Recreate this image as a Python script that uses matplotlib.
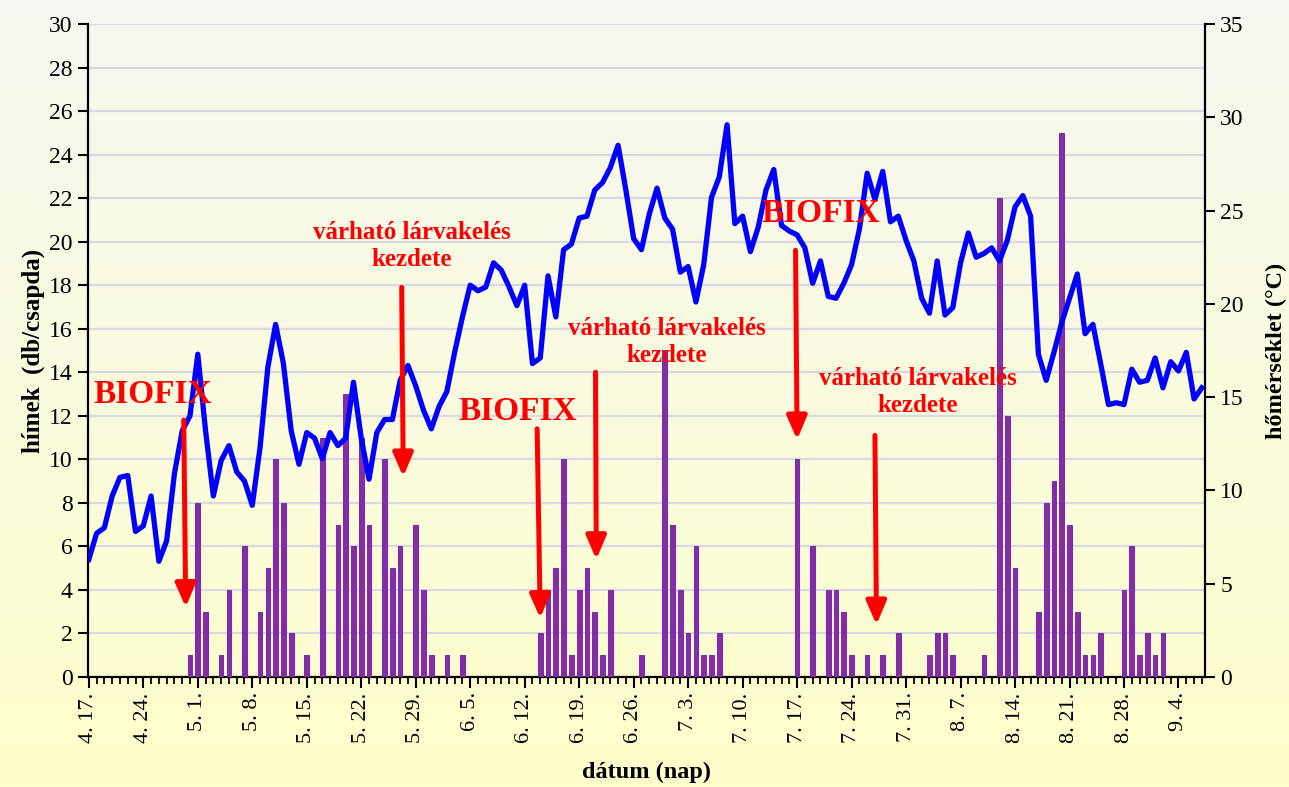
import numpy as np
import pandas as pd
import matplotlib
matplotlib.use('Agg')
import matplotlib.pyplot as plt
from matplotlib.ticker import MultipleLocator

plt.rcParams['font.family'] = ['Liberation Serif', 'DejaVu Serif']

# napi adatok 4.17-tol 9.7-ig
dates = pd.date_range('2008-04-17', periods=144, freq='D')

# napi kozephomerseklet (°C)
temp = [6.3, 7.7, 8.0, 9.7, 10.7, 10.8, 7.8, 8.1, 9.7, 6.2,
        7.3, 10.9, 13.2, 14.0, 17.3, 13.2, 9.7, 11.6, 12.4, 11.0,
        10.5, 9.2, 12.3, 16.6, 18.9, 16.8, 13.2, 11.4, 13.1, 12.8,
        11.7, 13.1, 12.4, 12.8, 15.8, 12.8, 10.6, 13.1, 13.8, 13.8,
        15.9, 16.7, 15.6, 14.3, 13.3, 14.5, 15.3, 17.4, 19.3, 21.0,
        20.7, 20.9, 22.2, 21.8, 20.9, 19.9, 21.0, 16.8, 17.1, 21.5,
        19.3, 22.9, 23.2, 24.6, 24.7, 26.1, 26.5, 27.3, 28.5, 26.1,
        23.5, 22.9, 24.8, 26.2, 24.6, 24.0, 21.7, 22.0, 20.1, 22.1,
        25.7, 26.8, 29.6, 24.3, 24.7, 22.8, 24.1, 26.1, 27.2, 24.2,
        23.9, 23.7, 23.0, 21.1, 22.3, 20.4, 20.3, 21.1, 22.1, 24.0,
        27.0, 25.6, 27.1, 24.4, 24.7, 23.4, 22.3, 20.3, 19.5, 22.3,
        19.4, 19.8, 22.2, 23.8, 22.5, 22.7, 23.0, 22.3, 23.4, 25.2,
        25.8, 24.7, 17.3, 15.9, 17.4, 19.0, 20.3, 21.6, 18.4, 18.9,
        16.8, 14.6, 14.7, 14.6, 16.5, 15.8, 15.9, 17.1, 15.5, 16.9,
        16.4, 17.4, 14.9, 15.5]

# fogasok: nap sorszama (0 = 4.17.) es himek szama csapdankent
trap_day = [13, 14, 15, 17, 18, 20, 22, 23, 24, 25, 26, 28, 30, 32, 33, 34, 35, 36,
            38, 39, 40, 42, 43, 44, 46, 48, 58, 59, 60, 61, 62, 63, 64, 65, 66, 67,
            71, 74, 75, 76, 77, 78, 79, 80, 81, 91, 93, 95, 96, 97, 98, 100, 102, 104,
            108, 109, 110, 111, 115, 117, 118, 119, 122, 123, 124, 125, 126, 127, 128,
            129, 130, 133, 134, 135, 136, 137, 138]
males = [1, 8, 3, 1, 4, 6, 3, 5, 10, 8, 2, 1, 11, 7, 13, 6, 11, 7,
         10, 5, 6, 7, 4, 1, 1, 1, 2, 4, 5, 10, 1, 4, 5, 3, 1, 4,
         1, 15, 7, 4, 2, 6, 1, 1, 2, 10, 6, 4, 4, 3, 1, 1, 1, 2,
         1, 2, 2, 1, 1, 22, 12, 5, 3, 8, 9, 25, 7, 3, 1,
         1, 2, 4, 6, 1, 2, 1, 2]

tick_labels = [f"{d.month}. {d.day}." for d in dates[::7]]

fig = plt.figure(figsize=(12.89, 7.87), dpi=100)

# hatter szinatmenet
bg = fig.add_axes([0, 0, 1, 1], zorder=-10)
top_c = np.array([246, 247, 241]) / 255
bot_c = np.array([255, 255, 204]) / 255
t = np.linspace(0, 1, 256)[:, None, None]
grad = top_c * (1 - t) + bot_c * t
bg.imshow(grad, aspect='auto', extent=[0, 1, 0, 1])
bg.axis('off')

ax = fig.add_axes([0.0683, 0.1398, 0.8665, 0.8297])
ax.patch.set_alpha(0)
ax.bar(trap_day, males, width=0.6, color='#8A2AA6', edgecolor='#6E36A8', linewidth=0.8, zorder=3)
ax.set_ylim(0, 30)
ax.set_xlim(-0.1, 143.4)
ax.set_yticks(range(0, 31, 2))
ax.yaxis.grid(True, color='#D9D9E3', linewidth=1.6, zorder=0)
ax.set_axisbelow(True)
ax.set_xticks(range(0, 144, 7))
ax.set_xticklabels(tick_labels, rotation=90, fontsize=16)
ax.xaxis.set_minor_locator(MultipleLocator(1))
ax.tick_params(axis='x', which='major', length=8, width=1.5, direction='out', pad=3)
ax.tick_params(axis='x', which='minor', length=5, width=1.3, direction='out')
ax.tick_params(axis='y', length=7, width=1.5, labelsize=17, pad=4)
for s in ['left', 'bottom']:
    ax.spines[s].set_linewidth(1.6)
ax.spines['top'].set_visible(False)
ax.spines['right'].set_visible(False)
ax.set_ylabel('hímek  (db/csapda)', fontsize=18, fontweight='bold', labelpad=3)
ax.set_xlabel('dátum (nap)', fontsize=17.5, fontweight='bold', labelpad=14)

ax2 = ax.twinx()
ax2.plot(range(len(temp)), temp, color='#0000FF', linewidth=3.8, zorder=4)
ax2.set_ylim(0, 35)
ax2.set_yticks(range(0, 36, 5))
ax2.tick_params(axis='y', length=7, width=1.5, labelsize=17, pad=4)
ax2.spines['right'].set_linewidth(1.6)
ax2.spines['top'].set_visible(False)
ax2.spines['left'].set_visible(False)
ax2.spines['bottom'].set_visible(False)
ax2.set_ylabel('hőmérséklet (°C)', fontsize=17.5, fontweight='bold', labelpad=16)

# feliratok es nyilak (bal tengely egysegeiben)
red = '#FF0000'
for x, y in [(8.2, 13.0), (55.1, 12.2), (94.0, 21.3)]:
    ax2.text(x, y, 'BIOFIX', transform=ax.transData, color=red, fontsize=24,
             fontweight='bold', ha='center', va='center', zorder=6)
for x, y in [(41.5, 19.8), (74.3, 15.4), (106.5, 13.1)]:
    ax2.text(x, y, 'várható lárvakelés\nkezdete', transform=ax.transData, color=red,
             fontsize=18, fontweight='bold', ha='center', va='center',
             linespacing=1.2, zorder=6)
arrows = [(12.2, 11.8, 12.45, 3.2), (40.2, 17.9, 40.4, 9.2), (57.6, 11.4, 58.0, 2.7),
          (65.1, 14.0, 65.2, 5.4), (90.8, 19.6, 91.0, 10.9), (101.0, 11.1, 101.2, 2.4)]
for x0, y0, x1, y1 in arrows:
    ax2.annotate('', xy=(x1, y1), xytext=(x0, y0), xycoords=ax.transData,
                 textcoords=ax.transData,
                 arrowprops=dict(arrowstyle='-|>,head_width=0.3,head_length=0.7',
                                 color=red, lw=3.6, mutation_scale=20,
                                 shrinkA=0, shrinkB=0), zorder=6)

fig.savefig('out.png', dpi=100)
